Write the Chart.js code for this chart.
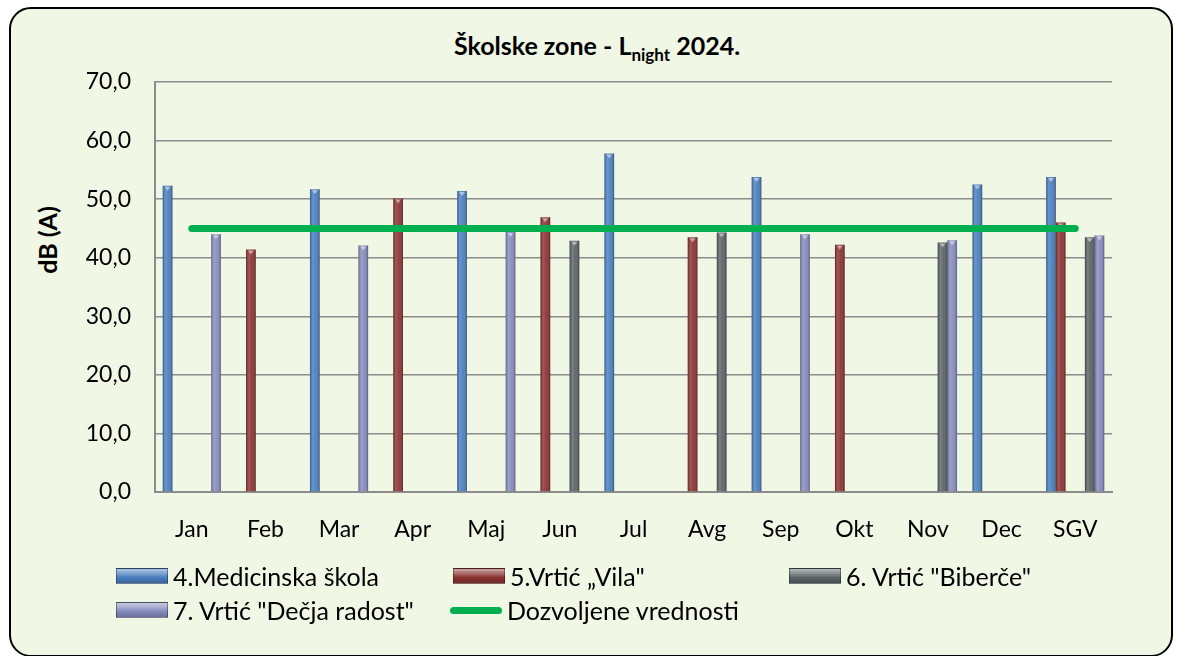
<!DOCTYPE html>
<html>
<head>
<meta charset="utf-8">
<script src="https://cdn.jsdelivr.net/npm/chart.js@4.4.1/dist/chart.umd.min.js"></script>
<style>
  body { margin: 0; width: 1179px; height: 656px; overflow: hidden; background: #fff; font-family: Lato, sans-serif; }
  .frame { position: absolute; left: 9px; top: 7px; width: 1160px; height: 646px; border: 2px solid #000; border-radius: 22px; background: #f0f7e4; }
  #noiseChart { position: absolute; left: 0; top: 0; }
  .title { position: absolute; left: 0; width: 1194px; top: 30px; text-align: center; font-weight: bold; font-size: 25px; color: #000; }
  .title sub { font-size: 17px; vertical-align: -6px; line-height: 0; }
  .ytitle { position: absolute; left: 47px; top: 240px; transform: translate(-50%, -50%) rotate(-90deg); font-weight: bold; font-size: 25px; white-space: nowrap; }
  .legend-item { position: absolute; display: flex; align-items: center; font-size: 25px; white-space: nowrap; color: #000; }
  .swatch { width: 52px; height: 16px; margin-right: 5px; box-sizing: border-box; }
  .swatch.line { height: 7px; border-radius: 4px; background: #00b050; }
</style>
</head>
<body>
<div class="frame"></div>
<div class="title">Školske zone - L<sub>night</sub> 2024.</div>
<div class="ytitle">dB (A)</div>
<canvas id="noiseChart" width="1179" height="656"></canvas>
<div id="legend"></div>
<script>
// categories
const months = ['Jan', 'Feb', 'Mar', 'Apr', 'Maj', 'Jun', 'Jul', 'Avg', 'Sep', 'Okt', 'Nov', 'Dec', 'SGV'];

// measured values, dB (A)
const medicinska = [52.3, null, 51.7, null, 51.4, null, 57.8, null, 53.8, null, null, 52.5, 53.8];
const vila = [null, 41.4, null, 50.1, null, 46.9, null, 43.5, null, 42.2, null, null, 46.0];
const biberce = [null, null, null, null, null, 42.9, null, 44.3, null, null, 42.6, null, 43.5];
const decjaRadost = [44.0, null, 42.1, null, 44.4, null, null, null, 44.0, null, 43.0, null, 43.8];
const dozvoljeno = [45, 45, 45, 45, 45, 45, 45, 45, 45, 45, 45, 45, 45];
// two unused series in the source sheet still take a bar slot
const prazno = [null, null, null, null, null, null, null, null, null, null, null, null, null];

const yTicks = [0, 10, 20, 30, 40, 50, 60, 70];

const colors = {
    medicinska: '#4a7ebf',
    vila: '#8a3331',
    biberce: '#5a6366',
    decja: '#858bbd',
    limit: '#00b050'
};

// Legend (Excel-like grid)
const legendItems = [
    { text: '4.Medicinska škola', color: colors.medicinska, left: 116, top: 561 },
    { text: '5.Vrtić „Vila"', color: colors.vila, left: 453, top: 561 },
    { text: '6. Vrtić "Biberče"', color: colors.biberce, left: 789, top: 561 },
    { text: '7. Vrtić "Dečja radost"', color: colors.decja, left: 116, top: 595 },
    { text: 'Dozvoljene vrednosti', line: true, left: 450, top: 595 }
];
const legendEl = document.getElementById('legend');
legendItems.forEach(item => {
    const d = document.createElement('div');
    d.className = 'legend-item';
    d.style.left = item.left + 'px';
    d.style.top = item.top + 'px';
    const sw = document.createElement('span');
    sw.className = item.line ? 'swatch line' : 'swatch';
    if (!item.line) {
        sw.style.background = 'linear-gradient(180deg, rgba(255,255,255,0.55) 0%, rgba(255,255,255,0.25) 35%, rgba(0,0,0,0) 60%, rgba(0,0,0,0.2) 100%), ' + item.color;
        sw.style.border = '1px solid rgba(0,0,0,0.35)';
    }
    d.appendChild(sw);
    d.appendChild(document.createTextNode(item.text));
    legendEl.appendChild(d);
});

// bevel shading on each bar
const bevelPlugin = {
    id: 'bevel',
    afterDatasetDraw(chart, args) {
        const meta = args.meta;
        if (meta.type !== 'bar') return;
        const values = chart.data.datasets[args.index].data;
        const ctx = chart.ctx;
        meta.data.forEach((bar, i) => {
            if (values[i] == null) return;
            const { x, y, base, width } = bar.getProps(['x', 'y', 'base', 'width'], true);
            const left = x - width / 2;
            const g = ctx.createLinearGradient(left, 0, left + width, 0);
            g.addColorStop(0, 'rgba(0,0,0,0.28)');
            g.addColorStop(0.3, 'rgba(255,255,255,0.18)');
            g.addColorStop(0.6, 'rgba(255,255,255,0.05)');
            g.addColorStop(1, 'rgba(0,0,0,0.35)');
            ctx.save();
            ctx.fillStyle = g;
            ctx.fillRect(left, y, width, base - y);
            ctx.fillStyle = 'rgba(255,255,255,0.5)';
            ctx.beginPath();
            ctx.moveTo(left + 2, y + 1);
            ctx.lineTo(left + width - 2, y + 1);
            ctx.lineTo(x, y + 5);
            ctx.closePath();
            ctx.fill();
            ctx.restore();
        });
    }
};

const barCommon = {
    type: 'bar',
    order: 1,
    categoryPercentage: 0.79,
    barPercentage: 1.0
};

const ctx = document.getElementById('noiseChart').getContext('2d');
new Chart(ctx, {
    type: 'bar',
    data: {
        labels: months,
        datasets: [
            { ...barCommon, label: '4.Medicinska škola', data: medicinska, backgroundColor: colors.medicinska },
            { ...barCommon, label: '5.Vrtić „Vila"', data: vila, backgroundColor: colors.vila },
            { ...barCommon, label: '', data: prazno },
            { ...barCommon, label: '', data: prazno },
            { ...barCommon, label: '6. Vrtić "Biberče"', data: biberce, backgroundColor: colors.biberce },
            { ...barCommon, label: '7. Vrtić "Dečja radost"', data: decjaRadost, backgroundColor: colors.decja },
            {
                type: 'line',
                order: 0,
                label: 'Dozvoljene vrednosti',
                data: dozvoljeno,
                borderColor: colors.limit,
                borderWidth: 7,
                borderCapStyle: 'round',
                pointRadius: 0,
                fill: false
            }
        ]
    },
    options: {
        responsive: false,
        animation: false,
        layout: {
            padding: { left: 55, top: 82, right: 67, bottom: 106 }
        },
        plugins: {
            legend: { display: false },
            title: { display: false },
            tooltip: { enabled: false }
        },
        scales: {
            x: {
                grid: { display: false },
                border: { display: true, color: '#8c8c8c', width: 2 },
                ticks: {
                    color: '#000',
                    font: { family: 'Lato', size: 23 },
                    padding: 16,
                    maxRotation: 0,
                    autoSkip: false
                },
                afterFit(scale) { scale.height = 58; }
            },
            y: {
                min: 0,
                max: 70,
                afterBuildTicks(scale) { scale.ticks = yTicks.map(v => ({ value: v })); },
                ticks: {
                    color: '#000',
                    font: { family: 'Lato', size: 23 },
                    padding: 24,
                    callback: v => v.toFixed(1).replace('.', ',')
                },
                grid: { color: '#8c8c8c', lineWidth: 1.5, drawTicks: false },
                border: { display: true, color: '#8c8c8c', width: 2 },
                afterFit(scale) { scale.width = 100; }
            }
        }
    },
    plugins: [bevelPlugin]
});
</script>
</body>
</html>
